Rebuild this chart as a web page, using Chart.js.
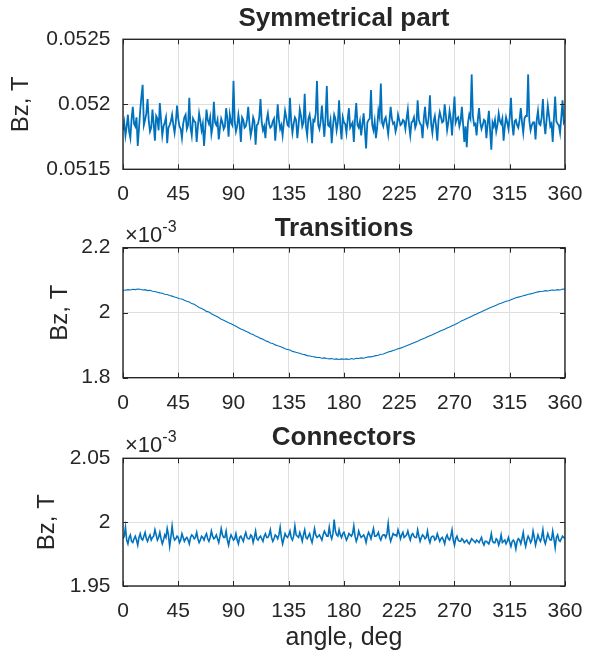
<!DOCTYPE html>
<html>
<head>
<meta charset="utf-8">
<script src="https://cdn.jsdelivr.net/npm/chart.js@4.4.0/dist/chart.umd.min.js"></script>
<style>
  body { margin: 0; background: #ffffff; }
  canvas { position: absolute; left: 0; }
</style>
</head>
<body>
<canvas id="symChart" width="595" height="210" style="top:0px"></canvas>
<canvas id="transChart" width="595" height="210" style="top:210px"></canvas>
<canvas id="connChart" width="595" height="242" style="top:420px"></canvas>
<script>
// angle samples, deg (1 deg for the noisy plots)
const anglesFine = [
  0, 1, 2, 3, 4, 5, 6, 7, 8, 9, 10, 11, 12, 13, 14, 15, 16, 17, 18, 19,
  20, 21, 22, 23, 24, 25, 26, 27, 28, 29, 30, 31, 32, 33, 34, 35, 36, 37, 38, 39,
  40, 41, 42, 43, 44, 45, 46, 47, 48, 49, 50, 51, 52, 53, 54, 55, 56, 57, 58, 59,
  60, 61, 62, 63, 64, 65, 66, 67, 68, 69, 70, 71, 72, 73, 74, 75, 76, 77, 78, 79,
  80, 81, 82, 83, 84, 85, 86, 87, 88, 89, 90, 91, 92, 93, 94, 95, 96, 97, 98, 99,
  100, 101, 102, 103, 104, 105, 106, 107, 108, 109, 110, 111, 112, 113, 114, 115, 116, 117, 118, 119,
  120, 121, 122, 123, 124, 125, 126, 127, 128, 129, 130, 131, 132, 133, 134, 135, 136, 137, 138, 139,
  140, 141, 142, 143, 144, 145, 146, 147, 148, 149, 150, 151, 152, 153, 154, 155, 156, 157, 158, 159,
  160, 161, 162, 163, 164, 165, 166, 167, 168, 169, 170, 171, 172, 173, 174, 175, 176, 177, 178, 179,
  180, 181, 182, 183, 184, 185, 186, 187, 188, 189, 190, 191, 192, 193, 194, 195, 196, 197, 198, 199,
  200, 201, 202, 203, 204, 205, 206, 207, 208, 209, 210, 211, 212, 213, 214, 215, 216, 217, 218, 219,
  220, 221, 222, 223, 224, 225, 226, 227, 228, 229, 230, 231, 232, 233, 234, 235, 236, 237, 238, 239,
  240, 241, 242, 243, 244, 245, 246, 247, 248, 249, 250, 251, 252, 253, 254, 255, 256, 257, 258, 259,
  260, 261, 262, 263, 264, 265, 266, 267, 268, 269, 270, 271, 272, 273, 274, 275, 276, 277, 278, 279,
  280, 281, 282, 283, 284, 285, 286, 287, 288, 289, 290, 291, 292, 293, 294, 295, 296, 297, 298, 299,
  300, 301, 302, 303, 304, 305, 306, 307, 308, 309, 310, 311, 312, 313, 314, 315, 316, 317, 318, 319,
  320, 321, 322, 323, 324, 325, 326, 327, 328, 329, 330, 331, 332, 333, 334, 335, 336, 337, 338, 339,
  340, 341, 342, 343, 344, 345, 346, 347, 348, 349, 350, 351, 352, 353, 354, 355, 356, 357, 358, 359,
  360
];

// angle samples, deg (2 deg for the smooth plot)
const anglesCoarse = [
  0, 2, 4, 6, 8, 10, 12, 14, 16, 18, 20, 22, 24, 26, 28, 30, 32, 34, 36, 38, 40,
  42, 44, 46, 48, 50, 52, 54, 56, 58, 60, 62, 64, 66, 68, 70, 72, 74, 76, 78, 80,
  82, 84, 86, 88, 90, 92, 94, 96, 98, 100, 102, 104, 106, 108, 110, 112, 114, 116, 118, 120,
  122, 124, 126, 128, 130, 132, 134, 136, 138, 140, 142, 144, 146, 148, 150, 152, 154, 156, 158, 160,
  162, 164, 166, 168, 170, 172, 174, 176, 178, 180, 182, 184, 186, 188, 190, 192, 194, 196, 198, 200,
  202, 204, 206, 208, 210, 212, 214, 216, 218, 220, 222, 224, 226, 228, 230, 232, 234, 236, 238, 240,
  242, 244, 246, 248, 250, 252, 254, 256, 258, 260, 262, 264, 266, 268, 270, 272, 274, 276, 278, 280,
  282, 284, 286, 288, 290, 292, 294, 296, 298, 300, 302, 304, 306, 308, 310, 312, 314, 316, 318, 320,
  322, 324, 326, 328, 330, 332, 334, 336, 338, 340, 342, 344, 346, 348, 350, 352, 354, 356, 358, 360
];

// Symmetrical part, Bz in T (one row = 10 deg)
const symmetricalBz = [
  0.05180, 0.05186, 0.05176, 0.05183, 0.05192, 0.05179, 0.05174, 0.05189, 0.05198, 0.05185,
  0.05183, 0.05190, 0.05168, 0.05181, 0.05195, 0.05206, 0.05215, 0.05184, 0.05188, 0.05193,
  0.05204, 0.05187, 0.05179, 0.05182, 0.05196, 0.05185, 0.05172, 0.05191, 0.05189, 0.05180,
  0.05201, 0.05188, 0.05176, 0.05183, 0.05186, 0.05190, 0.05170, 0.05182, 0.05184, 0.05187,
  0.05192, 0.05184, 0.05178, 0.05186, 0.05199, 0.05189, 0.05183, 0.05181, 0.05174, 0.05185,
  0.05190, 0.05192, 0.05181, 0.05184, 0.05205, 0.05182, 0.05176, 0.05189, 0.05187, 0.05186,
  0.05171, 0.05183, 0.05193, 0.05187, 0.05180, 0.05185, 0.05168, 0.05181, 0.05196, 0.05188,
  0.05185, 0.05190, 0.05177, 0.05183, 0.05202, 0.05186, 0.05184, 0.05188, 0.05173, 0.05182,
  0.05189, 0.05186, 0.05181, 0.05183, 0.05197, 0.05189, 0.05175, 0.05192, 0.05186, 0.05184,
  0.05218, 0.05187, 0.05179, 0.05183, 0.05192, 0.05185, 0.05171, 0.05190, 0.05188, 0.05182,
  0.05183, 0.05188, 0.05198, 0.05185, 0.05176, 0.05181, 0.05190, 0.05187, 0.05169, 0.05184,
  0.05185, 0.05190, 0.05204, 0.05186, 0.05180, 0.05183, 0.05174, 0.05188, 0.05193, 0.05185,
  0.05182, 0.05183, 0.05187, 0.05189, 0.05172, 0.05185, 0.05200, 0.05188, 0.05181, 0.05184,
  0.05176, 0.05186, 0.05195, 0.05190, 0.05184, 0.05183, 0.05205, 0.05187, 0.05178, 0.05185,
  0.05190, 0.05188, 0.05174, 0.05184, 0.05196, 0.05191, 0.05183, 0.05186, 0.05208, 0.05183,
  0.05176, 0.05189, 0.05192, 0.05185, 0.05170, 0.05188, 0.05187, 0.05193, 0.05218, 0.05184,
  0.05181, 0.05187, 0.05199, 0.05186, 0.05175, 0.05190, 0.05214, 0.05184, 0.05183, 0.05188,
  0.05170, 0.05183, 0.05192, 0.05189, 0.05180, 0.05186, 0.05203, 0.05184, 0.05173, 0.05190,
  0.05186, 0.05185, 0.05178, 0.05188, 0.05197, 0.05182, 0.05184, 0.05186, 0.05171, 0.05189,
  0.05201, 0.05184, 0.05182, 0.05187, 0.05176, 0.05185, 0.05193, 0.05180, 0.05166, 0.05186,
  0.05188, 0.05189, 0.05211, 0.05184, 0.05180, 0.05187, 0.05174, 0.05182, 0.05195, 0.05190,
  0.05216, 0.05186, 0.05183, 0.05188, 0.05190, 0.05184, 0.05177, 0.05187, 0.05198, 0.05189,
  0.05185, 0.05186, 0.05179, 0.05183, 0.05192, 0.05188, 0.05184, 0.05185, 0.05188, 0.05187,
  0.05181, 0.05189, 0.05196, 0.05184, 0.05176, 0.05186, 0.05187, 0.05190, 0.05182, 0.05185,
  0.05203, 0.05188, 0.05185, 0.05184, 0.05174, 0.05189, 0.05198, 0.05186, 0.05183, 0.05190,
  0.05207, 0.05185, 0.05178, 0.05187, 0.05191, 0.05183, 0.05172, 0.05188, 0.05194, 0.05190,
  0.05186, 0.05187, 0.05200, 0.05191, 0.05180, 0.05186, 0.05195, 0.05189, 0.05176, 0.05192,
  0.05206, 0.05186, 0.05189, 0.05190, 0.05183, 0.05187, 0.05198, 0.05185, 0.05171, 0.05183,
  0.05167, 0.05186, 0.05192, 0.05189, 0.05223, 0.05191, 0.05184, 0.05185, 0.05176, 0.05188,
  0.05197, 0.05186, 0.05181, 0.05184, 0.05188, 0.05187, 0.05174, 0.05185, 0.05195, 0.05180,
  0.05165, 0.05186, 0.05183, 0.05188, 0.05179, 0.05184, 0.05193, 0.05187, 0.05185, 0.05189,
  0.05172, 0.05183, 0.05190, 0.05186, 0.05181, 0.05190, 0.05205, 0.05185, 0.05176, 0.05187,
  0.05188, 0.05184, 0.05182, 0.05188, 0.05197, 0.05186, 0.05178, 0.05189, 0.05191, 0.05191,
  0.05223, 0.05187, 0.05180, 0.05184, 0.05186, 0.05186, 0.05173, 0.05188, 0.05195, 0.05185,
  0.05184, 0.05190, 0.05204, 0.05186, 0.05177, 0.05188, 0.05199, 0.05191, 0.05183, 0.05185,
  0.05171, 0.05189, 0.05206, 0.05187, 0.05185, 0.05184, 0.05178, 0.05190, 0.05203, 0.05186,
  0.05188
];

// Transitions, Bz in units of 1e-3 T (one row = 20 deg)
const transitionsBz = [
  2.070, 2.069, 2.071, 2.070, 2.072, 2.071, 2.073, 2.072, 2.070, 2.071, 2.068,
  2.069, 2.066, 2.065, 2.063, 2.061, 2.060, 2.057, 2.056, 2.053, 2.051,
  2.048, 2.046, 2.043, 2.042, 2.038, 2.035, 2.033, 2.028, 2.026, 2.021,
  2.016, 2.013, 2.009, 2.004, 2.002, 1.997, 1.993, 1.989, 1.985, 1.980,
  1.977, 1.973, 1.969, 1.966, 1.962, 1.958, 1.954, 1.950, 1.947, 1.943,
  1.940, 1.935, 1.933, 1.928, 1.925, 1.921, 1.918, 1.914, 1.911, 1.907,
  1.905, 1.901, 1.898, 1.896, 1.893, 1.889, 1.887, 1.885, 1.881, 1.879,
  1.877, 1.875, 1.872, 1.871, 1.868, 1.867, 1.865, 1.864, 1.862, 1.862,
  1.860, 1.861, 1.859, 1.858, 1.859, 1.857, 1.858, 1.856, 1.858, 1.857,
  1.858, 1.856, 1.859, 1.857, 1.860, 1.859, 1.861, 1.860, 1.862, 1.864,
  1.864, 1.866, 1.868, 1.869, 1.872, 1.873, 1.876, 1.879, 1.881, 1.884,
  1.886, 1.889, 1.891, 1.894, 1.897, 1.900, 1.903, 1.906, 1.909, 1.912,
  1.916, 1.919, 1.922, 1.926, 1.929, 1.932, 1.936, 1.939, 1.943, 1.946,
  1.949, 1.953, 1.956, 1.960, 1.963, 1.967, 1.971, 1.975, 1.978, 1.982,
  1.985, 1.989, 1.993, 1.996, 2.000, 2.003, 2.007, 2.010, 2.014, 2.017,
  2.020, 2.023, 2.027, 2.029, 2.032, 2.035, 2.037, 2.040, 2.043, 2.046,
  2.048, 2.050, 2.052, 2.054, 2.057, 2.058, 2.060, 2.062, 2.064, 2.065,
  2.066, 2.068, 2.067, 2.069, 2.070, 2.069, 2.071, 2.070, 2.073, 2.072
];

// Connectors, Bz in units of 1e-3 T (one row = 10 deg)
const connectorsBz = [
  1.987, 1.989, 1.996, 1.986, 1.983, 1.988, 1.990, 1.985, 1.984, 1.987,
  1.989, 1.986, 1.982, 1.988, 1.991, 1.987, 1.986, 1.989, 1.992, 1.987,
  1.985, 1.988, 1.990, 1.986, 1.988, 1.989, 1.994, 1.990, 1.986, 1.988,
  1.992, 1.987, 1.983, 1.986, 1.990, 1.988, 1.995, 1.990, 1.981, 1.988,
  1.997, 1.989, 1.986, 1.987, 1.989, 1.988, 1.984, 1.986, 1.991, 1.988,
  1.985, 1.987, 1.988, 1.986, 1.983, 1.988, 1.990, 1.989, 1.987, 1.988,
  1.992, 1.987, 1.984, 1.986, 1.989, 1.988, 1.986, 1.989, 1.991, 1.987,
  1.985, 1.988, 1.993, 1.989, 1.987, 1.988, 1.990, 1.987, 1.984, 1.989,
  1.995, 1.990, 1.988, 1.988, 1.993, 1.986, 1.982, 1.987, 1.990, 1.988,
  1.986, 1.987, 1.991, 1.986, 1.983, 1.988, 1.989, 1.987, 1.985, 1.989,
  1.992, 1.988, 1.987, 1.987, 1.990, 1.989, 1.984, 1.988, 1.993, 1.987,
  1.986, 1.988, 1.989, 1.987, 1.985, 1.989, 1.991, 1.988, 1.988, 1.990,
  1.994, 1.988, 1.985, 1.987, 1.990, 1.989, 1.987, 1.990, 1.996, 1.988,
  1.983, 1.987, 1.991, 1.989, 1.988, 1.990, 1.993, 1.988, 1.986, 1.989,
  1.997, 1.990, 1.989, 1.988, 1.992, 1.989, 1.985, 1.990, 1.994, 1.988,
  1.987, 1.989, 1.991, 1.987, 1.984, 1.989, 1.995, 1.990, 1.988, 1.989,
  1.990, 1.988, 1.986, 1.990, 1.993, 1.991, 1.989, 1.989, 1.996, 1.990,
  1.987, 1.991, 2.002, 1.993, 1.990, 1.989, 1.994, 1.990, 1.988, 1.991,
  1.992, 1.989, 1.986, 1.988, 1.991, 1.990, 1.989, 1.991, 1.997, 1.989,
  1.985, 1.988, 1.993, 1.990, 1.988, 1.989, 1.990, 1.988, 1.984, 1.989,
  1.992, 1.990, 1.987, 1.991, 1.995, 1.989, 1.989, 1.990, 1.992, 1.988,
  1.986, 1.989, 1.990, 1.990, 1.988, 1.991, 1.999, 1.989, 1.985, 1.988,
  1.991, 1.990, 1.990, 1.989, 1.994, 1.991, 1.987, 1.990, 1.992, 1.988,
  1.989, 1.990, 1.993, 1.989, 1.986, 1.990, 1.991, 1.989, 1.988, 1.988,
  1.994, 1.989, 1.985, 1.988, 1.990, 1.989, 1.987, 1.988, 1.993, 1.987,
  1.984, 1.988, 1.989, 1.989, 1.986, 1.987, 1.991, 1.988, 1.985, 1.987,
  1.988, 1.986, 1.983, 1.988, 1.990, 1.987, 1.986, 1.989, 1.994, 1.986,
  1.982, 1.987, 1.989, 1.986, 1.985, 1.985, 1.987, 1.986, 1.984, 1.985,
  1.986, 1.984, 1.983, 1.985, 1.987, 1.986, 1.985, 1.984, 1.986, 1.985,
  1.984, 1.986, 1.988, 1.984, 1.982, 1.985, 1.985, 1.984, 1.983, 1.986,
  1.991, 1.985, 1.984, 1.984, 1.987, 1.986, 1.982, 1.985, 1.990, 1.984,
  1.985, 1.986, 1.983, 1.985, 1.988, 1.984, 1.981, 1.985, 1.986, 1.984,
  1.979, 1.985, 1.987, 1.986, 1.983, 1.987, 1.992, 1.985, 1.981, 1.986,
  1.989, 1.987, 1.984, 1.986, 1.993, 1.988, 1.982, 1.986, 1.990, 1.987,
  1.985, 1.988, 1.994, 1.986, 1.983, 1.987, 1.991, 1.988, 1.986, 1.986,
  1.993, 1.987, 1.980, 1.988, 1.990, 1.986, 1.985, 1.987, 1.989, 1.988,
  1.987
];

// axis limits and ticks
const angleTicks = { min: 0, max: 360, step: 45 };
const symTicks = { min: 0.0515, max: 0.0525, step: 0.0005 };
const transTicks = { min: 1.8, max: 2.2, step: 0.2 };
const connTicks = { min: 1.95, max: 2.05, step: 0.05 };

const FONT = '"Liberation Sans", Arial, sans-serif';
const TEXT = '#262626';
const LINE = '#0072BD';

// MATLAB style box, inner tick marks and the exponent label
const matlabAxes = {
  id: 'matlabAxes',
  afterDraw(chart, args, opts) {
    const ctx = chart.ctx;
    const a = chart.chartArea;
    const xs = chart.scales.x;
    const ys = chart.scales.y;
    ctx.save();
    ctx.strokeStyle = TEXT;
    ctx.lineWidth = 1;
    ctx.beginPath();
    xs.ticks.forEach(t => {
      const px = Math.round(xs.getPixelForValue(t.value)) + 0.5;
      ctx.moveTo(px, a.bottom); ctx.lineTo(px, a.bottom - 5);
      ctx.moveTo(px, a.top); ctx.lineTo(px, a.top + 5);
    });
    ys.ticks.forEach(t => {
      const py = Math.round(ys.getPixelForValue(t.value)) + 0.5;
      ctx.moveTo(a.left, py); ctx.lineTo(a.left + 5, py);
      ctx.moveTo(a.right, py); ctx.lineTo(a.right - 5, py);
    });
    ctx.stroke();
    ctx.lineWidth = 1.4;
    ctx.strokeRect(a.left, a.top, a.right - a.left, a.bottom - a.top);
    if (opts.exponent) {
      ctx.fillStyle = TEXT;
      ctx.textAlign = 'left';
      ctx.textBaseline = 'alphabetic';
      ctx.font = '22px ' + FONT;
      ctx.fillText('\u00d710', a.left + 2, a.top - 6);
      const w = ctx.measureText('\u00d710').width;
      ctx.font = '16px ' + FONT;
      ctx.fillText(opts.exponent, a.left + 2 + w, a.top - 16);
    }
    ctx.restore();
  }
};

function numLabel(v) {
  return String(parseFloat(v.toFixed(4)));
}

function makeChart(id, angles, values, cfg) {
  return new Chart(document.getElementById(id), {
    type: 'line',
    data: {
      labels: angles,
      datasets: [{
        data: values,
        borderColor: LINE,
        borderWidth: cfg.lineWidth,
        pointRadius: 0,
        tension: 0,
        fill: false
      }]
    },
    options: {
      responsive: false,
      animation: false,
      events: [],
      layout: { padding: { left: 0, right: 22, top: 0, bottom: 0 } },
      plugins: {
        legend: { display: false },
        tooltip: { enabled: false },
        title: {
          display: true,
          text: cfg.title,
          fullSize: false,
          color: TEXT,
          font: { family: FONT, size: 26, weight: 'bold' },
          padding: cfg.titlePad
        },
        matlabAxes: { exponent: cfg.exponent }
      },
      scales: {
        x: {
          type: 'linear',
          min: angleTicks.min,
          max: angleTicks.max,
          afterFit: s => { s.height = cfg.xHeight; },
          border: { display: false },
          grid: { color: '#dfdfdf', lineWidth: 1, drawTicks: false },
          ticks: {
            stepSize: angleTicks.step,
            autoSkip: false,
            maxRotation: 0,
            padding: 12.5,
            color: TEXT,
            font: { family: FONT, size: 21 }
          },
          title: {
            display: !!cfg.xTitle,
            text: cfg.xTitle || '',
            color: TEXT,
            font: { family: FONT, size: 25 },
            padding: { top: 9, bottom: 9 }
          }
        },
        y: {
          min: cfg.ticks.min,
          max: cfg.ticks.max,
          afterFit: s => { s.width = 123; },
          border: { display: false },
          grid: { color: '#dfdfdf', lineWidth: 1, drawTicks: false },
          ticks: {
            stepSize: cfg.ticks.step,
            padding: 12.5,
            color: TEXT,
            font: { family: FONT, size: 21 },
            callback: v => numLabel(v)
          },
          title: {
            display: true,
            text: 'Bz, T',
            color: TEXT,
            font: { family: FONT, size: 24 },
            padding: { top: cfg.yTitlePad, bottom: 0 }
          }
        }
      }
    },
    plugins: [matlabAxes]
  });
}

makeChart('symChart', anglesFine, symmetricalBz, {
  title: 'Symmetrical part',
  titlePad: { top: 3.2, bottom: 4.9 },
  xHeight: 40.7,
  ticks: symTicks,
  yTitlePad: 7.3,
  lineWidth: 1.8
});

makeChart('transChart', anglesCoarse, transitionsBz, {
  title: 'Transitions',
  titlePad: { top: 3, bottom: 3.5 },
  xHeight: 42.3,
  ticks: transTicks,
  yTitlePad: 45.6,
  exponent: '-3',
  lineWidth: 1.1
});

makeChart('connChart', anglesFine, connectorsBz, {
  title: 'Connectors',
  titlePad: { top: 2.4, bottom: 4.7 },
  xHeight: 76,
  ticks: connTicks,
  yTitlePad: 33.1,
  exponent: '-3',
  xTitle: 'angle, deg',
  lineWidth: 1.6
});
</script>
</body>
</html>
